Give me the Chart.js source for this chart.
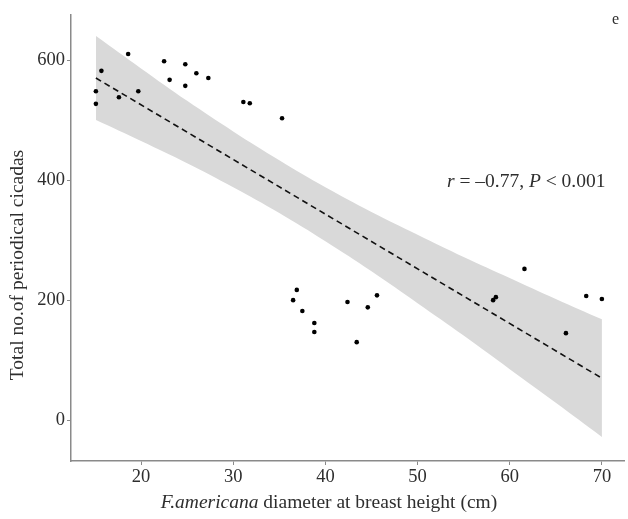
<!DOCTYPE html>
<html>
<head>
<meta charset="utf-8">
<script src="https://cdn.jsdelivr.net/npm/chart.js@4.4.0/dist/chart.umd.min.js"></script>
<style>
  html, body { margin: 0; padding: 0; background: #fff; }
  #wrap { width: 628px; height: 519px; }
</style>
</head>
<body>
<div id="wrap"><canvas id="cicadaChart" width="628" height="519"></canvas></div>
<script>
// Observed trees: DBH (cm) and cicada counts
const dbh = [15.1, 15.1, 15.7, 17.6, 18.6, 19.7, 22.5, 23.1, 24.8, 24.8, 26.0, 27.3, 31.1, 31.8, 35.3,
             36.5, 36.9, 37.5, 38.8, 38.8, 42.4, 43.4, 44.6, 45.6, 58.2, 58.5, 61.6, 66.1, 68.3, 70.0];
const cicadas = [527, 548, 582, 538, 610, 548, 598, 567, 593, 557, 578, 570, 530, 528, 503,
                 200, 217, 182, 162, 147, 197, 130, 188, 208, 200, 205, 252, 145, 207, 202];

// Fitted line and 95% band
const fitX = [15.1, 70.0];
const fitY = [570, 70];
const bandX = [15.1, 20, 25, 30, 35, 40, 45, 50, 55, 60, 65, 70];
const bandUpper = [640, 586, 532, 481, 433, 388, 347, 309, 272, 237, 202, 168];
const bandLower = [500, 465, 428, 388, 345, 298, 248, 195, 141, 85, 29, -28];

const xTicks = [20, 30, 40, 50, 60, 70];
const yTicks = [0, 200, 400, 600];

const serif = "'Liberation Serif', 'DejaVu Serif', serif";
const axisGray = '#8a8a8a';
const textColor = '#2e2e2e';

const pairs = (xs, ys) => xs.map((x, i) => ({ x: x, y: ys[i] }));

// Extra text: axis titles with italic parts, stat label, panel letter
const textPlugin = {
  id: 'textPlugin',
  afterDraw(chart) {
    const c = chart.ctx;
    const drawRuns = (runs, x, y, align) => {
      let total = 0;
      runs.forEach(r => { c.font = r.font; total += c.measureText(r.t).width; });
      let cx = align === 'center' ? x - total / 2 : x;
      runs.forEach(r => {
        c.font = r.font;
        c.fillText(r.t, cx, y);
        cx += c.measureText(r.t).width;
      });
    };
    c.save();
    c.fillStyle = textColor;
    c.textBaseline = 'middle';
    c.textAlign = 'left';

    // x title
    drawRuns([
      { t: 'F.americana', font: 'italic 19.5px ' + serif },
      { t: ' diameter at breast height (cm)', font: '19.5px ' + serif }
    ], 329, 503, 'center');

    // stat annotation
    drawRuns([
      { t: 'r', font: 'italic 19.5px ' + serif },
      { t: ' = \u20130.77, ', font: '19.5px ' + serif },
      { t: 'P', font: 'italic 19.5px ' + serif },
      { t: ' < 0.001', font: '19.5px ' + serif }
    ], 447, 182, 'left');

    // panel letter
    c.font = '16px ' + serif;
    c.fillText('e', 612, 20);

    // y title
    c.translate(18, 265);
    c.rotate(-Math.PI / 2);
    c.textAlign = 'center';
    c.font = '19.5px ' + serif;
    c.fillText('Total no.of periodical cicadas', 0, 0);
    c.restore();
  }
};

new Chart(document.getElementById('cicadaChart').getContext('2d'), {
  type: 'scatter',
  data: {
    datasets: [
      {
        label: 'Trees',
        data: pairs(dbh, cicadas),
        backgroundColor: '#000',
        borderColor: '#000',
        pointRadius: 2.3,
        pointBorderWidth: 0,
        order: 0
      },
      {
        type: 'line',
        label: 'Fit',
        data: pairs(fitX, fitY),
        borderColor: '#111',
        borderWidth: 1.6,
        borderDash: [6, 4],
        pointRadius: 0,
        fill: false,
        order: 1
      },
      {
        type: 'line',
        label: 'Upper',
        data: pairs(bandX, bandUpper),
        borderWidth: 0,
        borderColor: 'rgba(0,0,0,0)',
        backgroundColor: '#d9d9d9',
        pointRadius: 0,
        tension: 0.4,
        fill: '+1',
        order: 2
      },
      {
        type: 'line',
        label: 'Lower',
        data: pairs(bandX, bandLower),
        borderWidth: 0,
        borderColor: 'rgba(0,0,0,0)',
        pointRadius: 0,
        tension: 0.4,
        fill: false,
        order: 3
      }
    ]
  },
  options: {
    responsive: false,
    animation: false,
    events: [],
    layout: { padding: { top: 15, right: 3, left: 0, bottom: 0 } },
    plugins: {
      legend: { display: false },
      tooltip: { enabled: false }
    },
    scales: {
      x: {
        type: 'linear',
        min: 12.4,
        max: 72.4,
        afterFit(scale) { scale.height = 58; },
        afterBuildTicks(scale) { scale.ticks = xTicks.map(v => ({ value: v })); },
        border: { display: true, color: axisGray, width: 1.5 },
        grid: { display: true, drawOnChartArea: false, drawTicks: true, tickLength: 4, color: axisGray },
        ticks: { color: textColor, font: { family: serif, size: 18.5 }, padding: 1, maxRotation: 0 }
      },
      y: {
        type: 'linear',
        min: -68,
        max: 675,
        afterFit(scale) { scale.width = 71; },
        afterBuildTicks(scale) { scale.ticks = yTicks.map(v => ({ value: v })); },
        border: { display: true, color: axisGray, width: 1.5 },
        grid: { display: true, drawOnChartArea: false, drawTicks: true, tickLength: 4, color: axisGray },
        ticks: { color: textColor, font: { family: serif, size: 18.5 }, padding: 2 }
      }
    }
  },
  plugins: [textPlugin]
});
</script>
</body>
</html>
